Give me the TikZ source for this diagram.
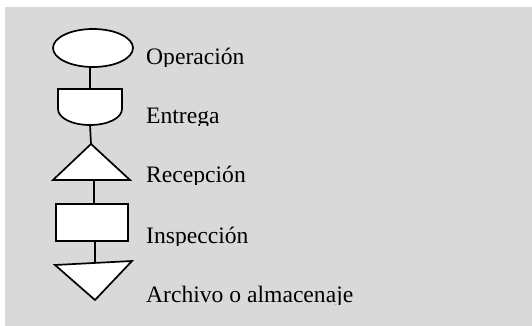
\documentclass[tikz,border=0pt]{standalone}
\usepackage{fontspec}
\setmainfont{Liberation Serif}
\usetikzlibrary{shapes.geometric}
\definecolor{bggray}{HTML}{D9D9D9}
\tikzset{
  sym/.style={draw=black, fill=white, line width=1.7pt, line join=miter},
  conn/.style={draw=black, line width=1.7pt},
  lbl/.style={anchor=base west, inner sep=0pt, font=\fontsize{23.6}{28}\selectfont}
}
\begin{document}
\begin{tikzpicture}[x=1pt,y=-1pt]
\useasboundingbox (0,0) rectangle (532,326);
\fill[bggray] (5,7) rectangle (532,326);
% Operacion
\node[sym, ellipse, minimum width=80pt, minimum height=38pt, inner sep=0pt] (op) at (93,48) {};
% Entrega
\coordinate (entTop) at (90,89);
\coordinate (entBot) at (90,125);
\path[sym] (58,89) -- (122,89) -- (122,109) .. controls (122,118) and (108,125) .. (entBot)
  .. controls (72,125) and (58,118) .. (58,109) -- cycle;
% Recepcion
\coordinate (recTop) at (91,144);
\coordinate (recBase) at (94,180);
\path[sym] (recTop) -- (130,180) -- (53,180) -- cycle;
% Inspeccion
\node[sym, rectangle, minimum width=72pt, minimum height=37pt, inner sep=0pt] (ins) at (92,222.5) {};
% Archivo
\coordinate (arcTop) at (95,263);
\path[sym] (55,265) -- (132,261) -- (95,300) -- cycle;
% connectors
\draw[conn] (op.south -| entTop) -- (entTop);
\draw[conn] (entBot) -- (recTop);
\draw[conn] (recBase) -- (ins.north -| recBase);
\draw[conn] (ins.south -| arcTop) -- (arcTop);
% labels (clipped just below baseline as in the reference)
\begin{scope}
\clip (140,40) rectangle (400,67);
\node[lbl] (t1) at (146,65) {Operación};
\end{scope}
\begin{scope}
\clip (140,95) rectangle (400,125);
\node[lbl] (t2) at (146,123) {Entrega};
\end{scope}
\begin{scope}
\clip (140,155) rectangle (400,184);
\node[lbl] (t3) at (146,182) {Recepción};
\end{scope}
\begin{scope}
\clip (140,215) rectangle (400,245);
\node[lbl] (t4) at (146,243) {Inspección};
\end{scope}
\begin{scope}
\clip (140,275) rectangle (400,304);
\node[lbl] (t5) at (146,302) {Archivo o almacenaje};
\end{scope}
\end{tikzpicture}
\end{document}
